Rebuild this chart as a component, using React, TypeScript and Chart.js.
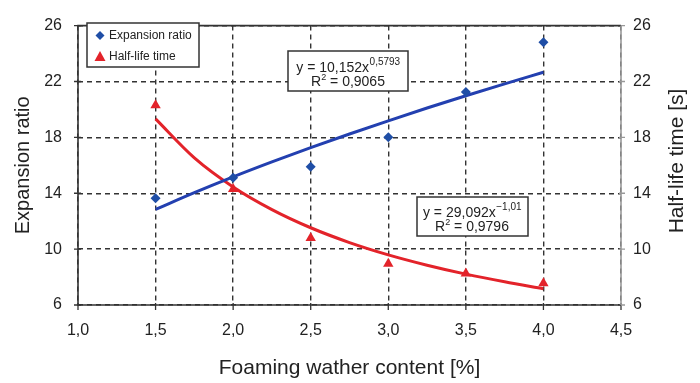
import { useEffect, useRef } from 'react';
import { Chart, registerables } from 'chart.js';

Chart.register(...registerables);

const FONT = "'Liberation Sans', Arial, Helvetica, sans-serif";

const contents = [1.5, 2.0, 2.5, 3.0, 3.5, 4.0];
const expansionRatio = [13.65, 15.1, 15.9, 18.0, 21.25, 24.8];
const halfLife = [20.3, 14.3, 10.8, 8.95, 8.25, 7.55];

// trend lines
const fitX = [1.5, 1.75, 2.0, 2.25, 2.5, 2.75, 3.0, 3.25, 3.5, 3.75, 4.0];
const expansionFit = [12.84, 14.04, 15.17, 16.24, 17.26, 18.24, 19.18, 20.1, 20.98, 21.83, 22.66];
const halfLifeFit = [19.32, 16.53, 14.45, 12.83, 11.53, 10.47, 9.59, 8.85, 8.21, 7.66, 7.17];

const xTicks = [1.0, 1.5, 2.0, 2.5, 3.0, 3.5, 4.0, 4.5];
const yTicks = [6, 10, 14, 18, 22, 26];

const seriesNames = ['Expansion ratio', 'Half-life time'];
const eq1 = { main: 'y = 10,152x', sup: '0,5793', r2: ' = 0,9065' };
const eq2 = { main: 'y = 29,092x', sup: '\u22121,01', r2: ' = 0,9796' };

const BLUE = '#2340b0';
const BLUE_PT = '#1f4ea6';
const RED = '#e3232a';
const TEXT = '#222';

function drawEquation(ctx: CanvasRenderingContext2D, cx: number, b1: number, b2: number, eq: any) {
  ctx.fillStyle = TEXT;
  ctx.textBaseline = 'alphabetic';
  ctx.textAlign = 'left';
  ctx.font = `14px ${FONT}`;
  const w1 = ctx.measureText(eq.main).width;
  ctx.font = `10px ${FONT}`;
  const w2 = ctx.measureText(eq.sup).width;
  let x = cx - (w1 + w2) / 2;
  ctx.font = `14px ${FONT}`;
  ctx.fillText(eq.main, x, b1);
  ctx.font = `10px ${FONT}`;
  ctx.fillText(eq.sup, x + w1 + 0.5, b1 - 7);
  // second line
  ctx.font = `14px ${FONT}`;
  const wr = ctx.measureText('R').width;
  const wrest = ctx.measureText(eq.r2).width;
  ctx.font = `9px ${FONT}`;
  const ws = ctx.measureText('2').width;
  x = cx - (wr + ws + wrest) / 2;
  ctx.font = `14px ${FONT}`;
  ctx.fillText('R', x, b2);
  ctx.font = `9px ${FONT}`;
  ctx.fillText('2', x + wr, b2 - 6);
  ctx.font = `14px ${FONT}`;
  ctx.fillText(eq.r2, x + wr + ws, b2);
}

function box(ctx: CanvasRenderingContext2D, l: number, t: number, r: number, b: number) {
  ctx.fillStyle = '#fff';
  ctx.fillRect(l, t, r - l, b - t);
  ctx.strokeStyle = '#333';
  ctx.lineWidth = 1.5;
  ctx.setLineDash([]);
  ctx.strokeRect(l, t, r - l, b - t);
}

const overlay = {
  id: 'overlay',
  afterDraw(chart: any) {
    const ctx: CanvasRenderingContext2D = chart.ctx;
    const { left, right, top, bottom } = chart.chartArea;
    const xs = chart.scales.x;
    const ys = chart.scales.y;
    ctx.save();
    ctx.setLineDash([]);
    // tick marks
    ctx.strokeStyle = '#333';
    ctx.lineWidth = 1.3;
    ctx.beginPath();
    yTicks.forEach((v) => {
      const y = ys.getPixelForValue(v);
      ctx.moveTo(left - 4, y);
      ctx.lineTo(left + 3, y);
    });
    xTicks.forEach((v) => {
      const x = xs.getPixelForValue(v);
      ctx.moveTo(x, bottom - 2);
      ctx.lineTo(x, bottom + 5);
    });
    ctx.stroke();
    ctx.strokeStyle = '#999';
    ctx.beginPath();
    yTicks.forEach((v) => {
      const y = ys.getPixelForValue(v);
      ctx.moveTo(right - 2, y);
      ctx.lineTo(right + 4, y);
    });
    ctx.stroke();
    // frame
    ctx.lineWidth = 1.6;
    ctx.strokeStyle = '#333';
    ctx.beginPath();
    ctx.moveTo(right, top);
    ctx.lineTo(left, top);
    ctx.lineTo(left, bottom);
    ctx.lineTo(right, bottom);
    ctx.stroke();
    ctx.strokeStyle = '#999';
    ctx.beginPath();
    ctx.moveTo(right, top);
    ctx.lineTo(right, bottom);
    ctx.stroke();

    // legend
    box(ctx, 87, 23, 199, 67);
    ctx.fillStyle = BLUE_PT;
    ctx.beginPath();
    ctx.moveTo(100, 31);
    ctx.lineTo(104.5, 35.5);
    ctx.lineTo(100, 40);
    ctx.lineTo(95.5, 35.5);
    ctx.closePath();
    ctx.fill();
    ctx.fillStyle = RED;
    ctx.beginPath();
    ctx.moveTo(100, 51);
    ctx.lineTo(105.5, 61);
    ctx.lineTo(94.5, 61);
    ctx.closePath();
    ctx.fill();
    ctx.fillStyle = TEXT;
    ctx.font = `12px ${FONT}`;
    ctx.textAlign = 'left';
    ctx.textBaseline = 'middle';
    ctx.fillText(seriesNames[0], 109, 36);
    ctx.fillText(seriesNames[1], 109, 57);

    // equation boxes
    box(ctx, 288, 51, 408, 91);
    drawEquation(ctx, 348, 72, 86, eq1);
    box(ctx, 417, 197, 528, 236);
    drawEquation(ctx, 472, 217, 231, eq2);

    // right axis title (reads bottom to top)
    ctx.save();
    ctx.translate(677, 161);
    ctx.rotate(-Math.PI / 2);
    ctx.fillStyle = TEXT;
    ctx.font = `21px ${FONT}`;
    ctx.textAlign = 'center';
    ctx.textBaseline = 'middle';
    ctx.fillText('Half-life time [s]', 0, 0);
    ctx.restore();
    ctx.restore();
  },
};

export default function App() {
  const ref = useRef<HTMLCanvasElement>(null);
  useEffect(() => {
    if (!ref.current) return;
    const gridCommon = {
      color: '#333',
      lineWidth: 1.4,
      drawTicks: false,
    };
    const chart = new Chart(ref.current, {
      type: 'scatter',
      data: {
        datasets: [
          {
            label: seriesNames[0],
            data: contents.map((x, i) => ({ x, y: expansionRatio[i] })),
            pointStyle: 'rectRot',
            pointRadius: 5,
            backgroundColor: BLUE_PT,
            borderColor: BLUE_PT,
            borderWidth: 0,
            yAxisID: 'y',
            order: 1,
          },
          {
            label: seriesNames[1],
            data: contents.map((x, i) => ({ x, y: halfLife[i] })),
            pointStyle: 'triangle',
            pointRadius: 6,
            backgroundColor: RED,
            borderColor: RED,
            borderWidth: 0,
            yAxisID: 'y2',
            order: 1,
          },
          {
            label: 'fit1',
            data: fitX.map((x, i) => ({ x, y: expansionFit[i] })),
            showLine: true,
            pointRadius: 0,
            borderColor: BLUE,
            borderWidth: 3,
            cubicInterpolationMode: 'monotone',
            yAxisID: 'y',
            order: 2,
          },
          {
            label: 'fit2',
            data: fitX.map((x, i) => ({ x, y: halfLifeFit[i] })),
            showLine: true,
            pointRadius: 0,
            borderColor: RED,
            borderWidth: 3,
            cubicInterpolationMode: 'monotone',
            yAxisID: 'y2',
            order: 2,
          },
        ] as any,
      },
      options: {
        animation: false,
        responsive: false,
        maintainAspectRatio: false,
        layout: { padding: { top: 19, left: 0, right: 0, bottom: 0 } },
        plugins: {
          legend: { display: false },
          tooltip: { enabled: false },
        },
        scales: {
          x: {
            type: 'linear',
            min: 1,
            max: 4.5,
            afterBuildTicks: (s: any) => {
              s.ticks = xTicks.map((v) => ({ value: v }));
            },
            afterFit: (s: any) => {
              s.height = 78;
            },
            grid: gridCommon,
            border: { display: false, dash: [5, 4] },
            ticks: {
              padding: 16,
              color: TEXT,
              font: { family: FONT, size: 16 },
              callback: (v: any) => Number(v).toFixed(1).replace('.', ','),
            },
            title: {
              display: true,
              text: 'Foaming wather content [%]',
              color: TEXT,
              font: { family: FONT, size: 21 },
              padding: { top: 0, bottom: 2 },
            },
          },
          y: {
            type: 'linear',
            position: 'left',
            min: 6,
            max: 26,
            afterBuildTicks: (s: any) => {
              s.ticks = yTicks.map((v) => ({ value: v }));
            },
            afterFit: (s: any) => {
              s.width = 78;
            },
            grid: gridCommon,
            border: { display: false, dash: [5, 4] },
            ticks: {
              padding: 16,
              color: TEXT,
              font: { family: FONT, size: 16 },
            },
            title: {
              display: true,
              text: 'Expansion ratio',
              color: TEXT,
              font: { family: FONT, size: 20 },
              padding: { top: 11, bottom: 0 },
            },
          },
          y2: {
            type: 'linear',
            position: 'right',
            min: 6,
            max: 26,
            afterBuildTicks: (s: any) => {
              s.ticks = yTicks.map((v) => ({ value: v }));
            },
            afterFit: (s: any) => {
              s.width = 79;
            },
            grid: { display: false, drawTicks: false },
            border: { display: false },
            ticks: {
              padding: 12,
              color: TEXT,
              font: { family: FONT, size: 16 },
            },
          },
        },
      } as any,
      plugins: [overlay],
    });
    return () => chart.destroy();
  }, []);
  return (
    <div style={{ position: 'fixed', left: 0, top: 0, width: 700, height: 383, background: '#fff' }}>
      <canvas ref={ref} width={700} height={383} style={{ width: 700, height: 383, display: 'block' }} />
    </div>
  );
}
